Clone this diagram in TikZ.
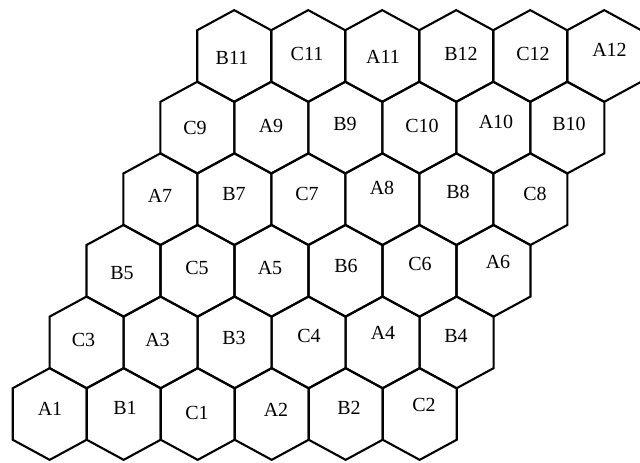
\documentclass[tikz,border=0pt]{standalone}
\usepackage{fontspec}
\setmainfont{Liberation Serif}
\begin{document}
\begin{tikzpicture}[x=1pt,y=1pt,
  hexline/.style={draw=black, line width=2.1pt, line join=miter},
  lab/.style={font=\fontsize{20}{20}\selectfont, inner sep=0pt}]
\useasboundingbox[fill=white] (0,0) rectangle (640,463);
\foreach \r in {0,...,5} {
  \foreach \c in {0,...,5} {
    \pgfmathsetmacro\cx{49.7+74*\c+36.9*\r}
    \pgfmathsetmacro\cy{49+71.6*\r}
    \draw[hexline] ({\cx-37},{\cy-25.75}) -- ({\cx-37},{\cy+25.75}) -- ({\cx},{\cy+45.85})
      -- ({\cx+37},{\cy+25.75}) -- ({\cx+37},{\cy-25.75}) -- ({\cx},{\cy-45.85}) -- cycle;
  }
}
% row 0
\node[lab] (A1) at (50,54) {A1};
\node[lab] (B1) at (125,55.5) {B1};
\node[lab] (C1) at (197,50) {C1};
\node[lab] (A2) at (276,53) {A2};
\node[lab] (B2) at (349,55) {B2};
\node[lab] (C2) at (424,58) {C2};
% row 1
\node[lab] (C3) at (83.5,123) {C3};
\node[lab] (A3) at (157.5,123) {A3};
\node[lab] (B3) at (234,125) {B3};
\node[lab] (C4) at (309,127) {C4};
\node[lab] (A4) at (383,130) {A4};
\node[lab] (B4) at (456,127) {B4};
% row 2
\node[lab] (B5) at (122,190) {B5};
\node[lab] (C5) at (197,195) {C5};
\node[lab] (A5) at (270,195) {A5};
\node[lab] (B6) at (346,197) {B6};
\node[lab] (C6) at (420,199) {C6};
\node[lab] (A6) at (498,201) {A6};
% row 3
\node[lab] (A7) at (160,267) {A7};
\node[lab] (B7) at (234,269) {B7};
\node[lab] (C7) at (307,269) {C7};
\node[lab] (A8) at (382,275) {A8};
\node[lab] (B8) at (458,271) {B8};
\node[lab] (C8) at (535,269) {C8};
% row 4
\node[lab] (C9) at (195,335) {C9};
\node[lab] (A9) at (271,337) {A9};
\node[lab] (B9) at (345,339) {B9};
\node[lab] (C10) at (422,337) {C10};
\node[lab] (A10) at (496,341) {A10};
\node[lab] (B10) at (569,339) {B10};
% row 5
\node[lab] (B11) at (232,405.5) {B11};
\node[lab] (C11) at (307,409.5) {C11};
\node[lab] (A11) at (383,406.5) {A11};
\node[lab] (B12) at (461,409.5) {B12};
\node[lab] (C12) at (533,409.5) {C12};
\node[lab] (A12) at (609.5,413) {A12};
\end{tikzpicture}
\end{document}
